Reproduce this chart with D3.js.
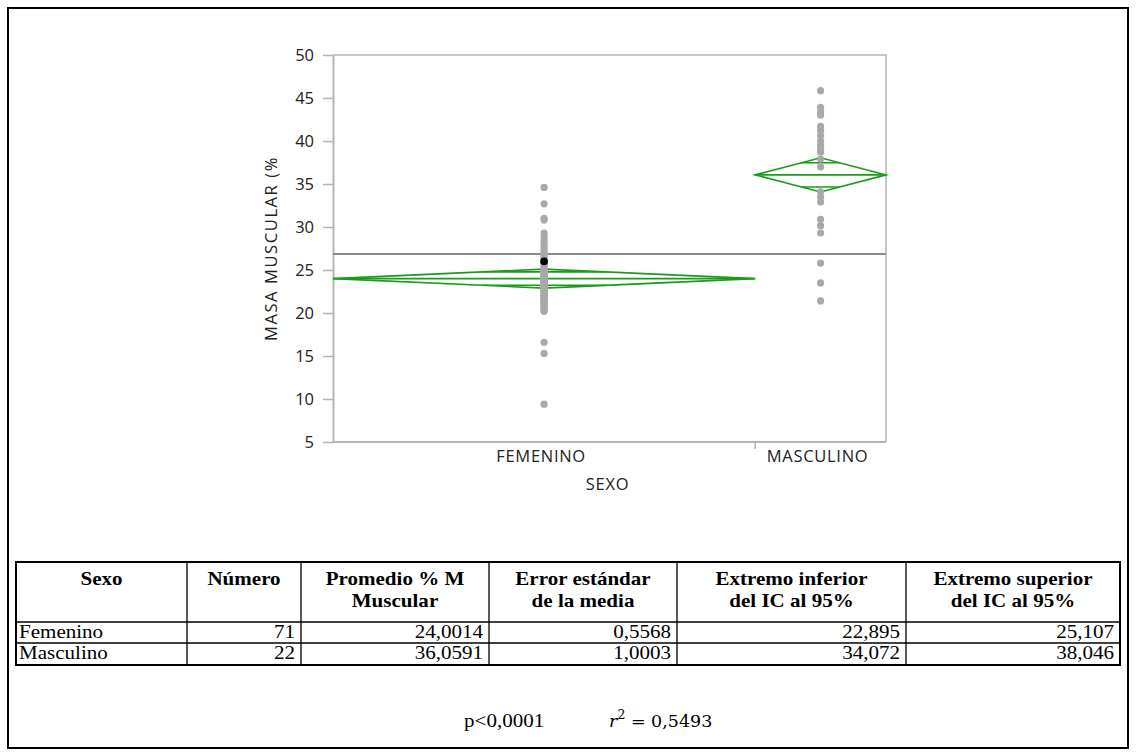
<!DOCTYPE html>
<html>
<head>
<meta charset="utf-8">
<script src="https://cdn.jsdelivr.net/npm/d3@7"></script>
<style>
  html, body { margin: 0; padding: 0; background: #fff; }
  svg { display: block; }
</style>
</head>
<body>
<svg id="chart" width="1136" height="756"></svg>
<script>
// Categories and their sample sizes (x widths are proportional to n)
const categories = ["FEMENINO", "MASCULINO"];
const counts = [71, 22];

// Means and 95% CI limits per group
const means = [24.0014, 36.0591];
const stdErrors = [0.5568, 1.0003];
const ciLower = [22.895, 34.072];
const ciUpper = [25.107, 38.046];

// Individual observations, % masa muscular
const femeninoValues = [
  34.6, 32.7, 31.0, 30.8,
  29.3, 28.9, 28.5, 28.1, 27.8, 27.5, 27.2, 26.9, 26.6, 26.4, 26.0, 25.9, 25.7, 25.5, 25.3, 25.1, 24.9,
  24.8, 24.6, 24.5, 24.3, 24.2, 24.0, 25.0, 24.4, 23.5, 26.2, 25.8, 24.7, 24.1, 24.8,
  23.9, 23.8, 23.7, 23.6, 23.5, 23.4, 23.3, 23.2, 23.1, 23.0, 22.9, 22.8, 22.7, 22.6, 22.5, 22.4,
  22.3, 22.2, 22.1, 22.0, 21.9, 21.8, 21.6, 21.5, 21.4, 21.2, 21.1, 21.0, 20.8, 20.7, 20.5, 20.4, 20.2,
  16.6, 15.3, 9.4
];
const masculinoValues = [
  45.85, 43.9, 43.4, 43.0, 41.7, 41.2, 40.6, 40.0, 39.5, 39.0, 38.7, 37.9,
  37.0, 34.1, 33.5, 32.9, 30.9, 30.15, 29.3, 25.8, 23.5, 21.4
];
// Selected row shown in black
const selectedValue = 26.0;

const yTicks = [5, 10, 15, 20, 25, 30, 35, 40, 45, 50];

// Table rows
const tableHeaders = [
  ["Sexo"], ["Número"], ["Promedio % M", "Muscular"], ["Error estándar", "de la media"],
  ["Extremo inferior", "del IC al 95%"], ["Extremo superior", "del IC al 95%"]
];
const rowLabels = ["Femenino", "Masculino"];
const numberLabels = ["71", "22"];
const meanLabels = ["24,0014", "36,0591"];
const seLabels = ["0,5568", "1,0003"];
const lowerLabels = ["22,895", "34,072"];
const upperLabels = ["25,107", "38,046"];
const pText = "p<0,0001";
const r2Text = "0,5493";

const svg = d3.select("#chart");
const plot = { left: 333, right: 886, top: 55, bottom: 442 };
const green = "#1c9a1c";
const ptColor = "#a9a9a9";
const sansFont = '"Open Sans", "Noto Sans", sans-serif';
const serifFont = '"Liberation Serif", "Times New Roman", serif';
const labelSize = 16.5;
const tableSize = 18.8;
const tableStretch = 1.12;

// outer frame
svg.append("rect").attr("x", 8).attr("y", 8).attr("width", 1120).attr("height", 740)
  .attr("fill", "none").attr("stroke", "#000").attr("stroke-width", 2);

const y = d3.scaleLinear().domain([5, 50]).range([plot.bottom, plot.top]);
const total = d3.sum(counts);
const x = d3.scaleLinear().domain([0, total]).range([plot.left, plot.right]);
const starts = counts.map((c, i) => d3.sum(counts.slice(0, i)));
const groups = categories.map((name, i) => ({
  name, n: counts[i], mean: means[i], lo: ciLower[i], hi: ciUpper[i],
  x0: x(starts[i]), x1: x(starts[i] + counts[i]), xm: x(starts[i] + counts[i] / 2),
  values: i === 0 ? femeninoValues : masculinoValues
}));

// plot frame (top/right)
svg.append("path")
  .attr("d", `M${plot.left},${plot.top}H${plot.right}V${plot.bottom}`)
  .attr("fill", "none").attr("stroke", "#b4b4b4").attr("stroke-width", 1.5);

// y axis
const yAxis = svg.append("g").attr("transform", `translate(${plot.left},0)`)
  .call(d3.axisLeft(y).tickValues(yTicks).tickSize(10).tickPadding(9).tickSizeOuter(0));
yAxis.select(".domain").attr("stroke", "#b4b4b4").attr("stroke-width", 2);
yAxis.selectAll(".tick line").attr("stroke", "#b4b4b4").attr("stroke-width", 1.5);
yAxis.selectAll(".tick text").attr("font-family", sansFont)
  .attr("font-size", labelSize).attr("fill", "#222");

// x axis baseline
svg.append("line").attr("x1", plot.left).attr("x2", plot.right)
  .attr("y1", plot.bottom).attr("y2", plot.bottom)
  .attr("stroke", "#b4b4b4").attr("stroke-width", 2);
// boundaries between groups
groups.slice(1).forEach(g => {
  svg.append("line").attr("x1", g.x0).attr("x2", g.x0)
    .attr("y1", plot.bottom).attr("y2", plot.bottom + 7)
    .attr("stroke", "#b4b4b4").attr("stroke-width", 1.5);
});
svg.selectAll(".xlab").data(groups).enter().append("text")
  .attr("x", d => d.xm - 3).attr("y", plot.bottom + 20)
  .attr("text-anchor", "middle").attr("font-family", sansFont).attr("font-size", labelSize)
  .attr("letter-spacing", 0.7).attr("fill", "#222").text(d => d.name);

svg.append("text").attr("x", (plot.left + plot.right) / 2 - 2).attr("y", plot.bottom + 48)
  .attr("text-anchor", "middle").attr("font-family", sansFont).attr("font-size", labelSize)
  .attr("letter-spacing", 0.7).attr("fill", "#222").text("SEXO");
svg.append("text")
  .attr("transform", `translate(277,${(plot.top + plot.bottom) / 2}) rotate(-90)`)
  .attr("text-anchor", "middle").attr("font-family", sansFont).attr("font-size", labelSize)
  .attr("letter-spacing", 1.6).attr("fill", "#222").text("MASA MUSCULAR (%");

// grand mean
const grandMean = d3.sum(groups, g => g.n * g.mean) / total;
svg.append("line").attr("x1", plot.left).attr("x2", plot.right)
  .attr("y1", y(grandMean)).attr("y2", y(grandMean))
  .attr("stroke", "#8a8a8a").attr("stroke-width", 2);

// mean diamonds with overlap marks
const dg = svg.append("g").attr("fill", "none").attr("stroke", green).attr("stroke-width", 1.6);
groups.forEach(g => {
  dg.append("path").attr("d",
    `M${g.x0},${y(g.mean)}L${g.xm},${y(g.hi)}L${g.x1},${y(g.mean)}L${g.xm},${y(g.lo)}Z`);
  dg.append("line").attr("x1", g.x0).attr("x2", g.x1)
    .attr("y1", y(g.mean)).attr("y2", y(g.mean));
  const half = (g.hi - g.lo) / 2;
  const off = half / Math.SQRT2;
  const hw = (g.x1 - g.x0) / 2 * (1 - 1 / Math.SQRT2);
  [g.mean + off, g.mean - off].forEach(v => {
    dg.append("line").attr("x1", g.xm - hw).attr("x2", g.xm + hw)
      .attr("y1", y(v)).attr("y2", y(v));
  });
});

// observations
groups.forEach(g => {
  svg.append("g").selectAll("circle").data(g.values).enter().append("circle")
    .attr("cx", g.xm).attr("cy", d => y(d)).attr("r", 3.6).attr("fill", ptColor);
});
svg.append("circle").attr("cx", groups[0].xm).attr("cy", y(selectedValue))
  .attr("r", 3.8).attr("fill", "#000");

// summary table
const colX = [16, 187, 301, 489, 677, 906, 1120];
const rowY = [562, 622, 643, 665];
const tg = svg.append("g");
tg.append("rect").attr("x", colX[0]).attr("y", rowY[0])
  .attr("width", colX[6] - colX[0]).attr("height", rowY[3] - rowY[0])
  .attr("fill", "none").attr("stroke", "#000").attr("stroke-width", 2);
colX.slice(1, 6).forEach(cx => tg.append("line").attr("x1", cx).attr("x2", cx)
  .attr("y1", rowY[0]).attr("y2", rowY[3]).attr("stroke", "#000").attr("stroke-width", 1.3));
rowY.slice(1, 3).forEach(ry => tg.append("line").attr("x1", colX[0]).attr("x2", colX[6])
  .attr("y1", ry).attr("y2", ry).attr("stroke", "#000").attr("stroke-width", 1.3));

// serif cell text, slightly widened like the document's table
function cellText(px, py, anchor, t, bold) {
  tg.append("text")
    .attr("transform", `translate(${px},${py}) scale(${tableStretch},1)`)
    .attr("text-anchor", anchor).attr("font-family", serifFont)
    .attr("font-size", tableSize).attr("font-weight", bold ? "bold" : "normal").text(t);
}

tableHeaders.forEach((lines, i) => {
  const cx = (colX[i] + colX[i + 1]) / 2;
  lines.forEach((t, k) => cellText(cx, 585 + k * 22, "middle", t, true));
});
const rows = rowLabels.map((lab, i) =>
  [lab, numberLabels[i], meanLabels[i], seLabels[i], lowerLabels[i], upperLabels[i]]);
rows.forEach((r, ri) => {
  const ty = rowY[ri + 1] + 16;
  r.forEach((t, ci) => {
    const left = ci === 0;
    cellText(left ? colX[0] + 3 : colX[ci + 1] - 6, ty, left ? "start" : "end", t, false);
  });
});

// test statistics
svg.append("text").attr("transform", `translate(464,727) scale(${tableStretch},1)`)
  .attr("font-family", serifFont).attr("font-size", tableSize).text(pText);
const r2 = svg.append("text").attr("x", 609).attr("y", 727)
  .attr("font-family", '"DejaVu Serif", serif').attr("font-size", 17.5);
r2.append("tspan").attr("font-style", "italic").text("r");
r2.append("tspan").attr("dy", -8).attr("font-size", 12.5).text("2");
r2.append("tspan").attr("dy", 8).text(" = " + r2Text);
</script>
</body>
</html>
